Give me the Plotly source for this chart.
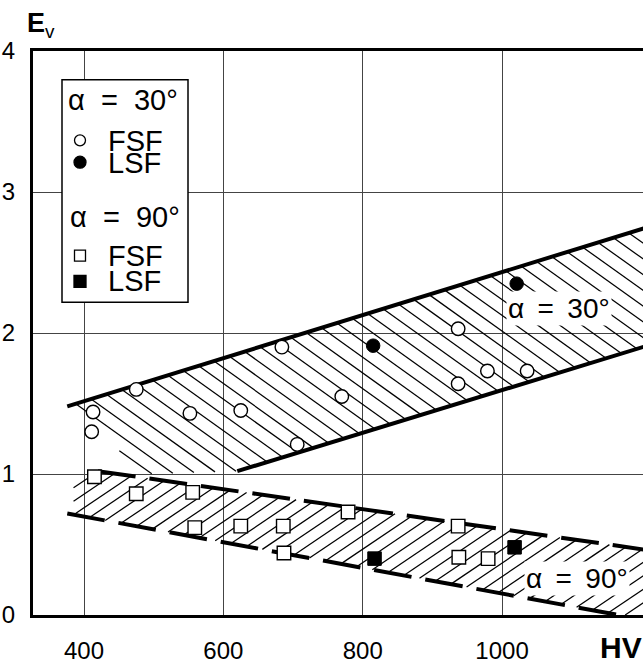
import plotly.graph_objects as go

# ---------------- data ----------------
fsf30_x = [413, 411, 475, 552, 625, 684, 706, 770, 937, 937, 979, 1036]
fsf30_y = [1.44, 1.30, 1.60, 1.43, 1.45, 1.90, 1.21, 1.55, 2.03, 1.64, 1.73, 1.73]
lsf30_x = [815, 1021]
lsf30_y = [1.91, 2.35]
fsf90_x = [415, 475, 556, 559, 625, 686, 687, 779, 937, 938, 980]
fsf90_y = [0.98, 0.86, 0.87, 0.62, 0.63, 0.63, 0.44, 0.73, 0.63, 0.41, 0.40]
lsf90_x = [817, 1018]
lsf90_y = [0.40, 0.48]

# band boundaries (alpha = 30 deg, solid)
b30_top_x = [376, 1215]
b30_top_y = [1.48, 2.76]
b30_bot_x = [620, 1215]
b30_bot_y = [1.02, 1.92]
b30_corner_x = [490]
b30_corner_y = [1.00]
# band boundaries (alpha = 90 deg, dashed)
b90_top_x = [420, 1215]
b90_top_y = [1.02, 0.456]
b90_bot_x = [376, 1167]
b90_bot_y = [0.72, 0.0]
b90_hatch_x = [385, 385, 430, 1215, 1215, 1167]
b90_hatch_y = [0.712, 0.95, 1.013, 0.456, 0.0, 0.0]

x_ticks = [400, 600, 800, 1000]
y_ticks = [0, 1, 2, 3, 4]

# ---------------- layout geometry ----------------
W, H = 643, 664
ML, MR, MT, MB = 33, 0, 51, 45
PW, PH = W - ML - MR, H - MT - MB
XR = [326.8, 1202.3]
YR = [0, 4]
FONT = "Liberation Sans, Arial, Helvetica, sans-serif"


def to_px(x, y):
    return ((x - XR[0]) / (XR[1] - XR[0]) * PW, (YR[1] - y) / (YR[1] - YR[0]) * PH)


def to_data(px, py):
    return (XR[0] + px / PW * (XR[1] - XR[0]), YR[1] - py / PH * (YR[1] - YR[0]))


def hatch(poly_x, poly_y, slope, spacing):
    """Parallel hatch lines (screen slope) clipped to a polygon, in data coords."""
    pts = [to_px(a, b) for a, b in zip(poly_x, poly_y)]
    cs = [py - slope * px for px, py in pts]
    step = abs(slope) * spacing
    c = min(cs) + step / 2
    xs, ys = [], []
    n = len(pts)
    while c < max(cs):
        hits = []
        for i in range(n):
            (x1, y1), (x2, y2) = pts[i], pts[(i + 1) % n]
            f1 = y1 - slope * x1 - c
            f2 = y2 - slope * x2 - c
            if (f1 > 0) != (f2 > 0):
                t = f1 / (f1 - f2)
                hits.append((x1 + t * (x2 - x1), y1 + t * (y2 - y1)))
        hits.sort()
        for k in range(0, len(hits) - 1, 2):
            for hx, hy in hits[k:k + 2]:
                dx, dy = to_data(hx, hy)
                xs.append(dx)
                ys.append(dy)
            xs.append(None)
            ys.append(None)
        c += step
    return xs, ys


def pxx(px):
    return (px - ML) / PW


def pxy(py):
    return (H - MB - py) / PH


fig = go.Figure()

# hatching
hx, hy = hatch(b30_top_x + b30_bot_x[::-1] + b30_corner_x,
               b30_top_y + b30_bot_y[::-1] + b30_corner_y,
               0.72, 22)
fig.add_trace(go.Scatter(x=hx, y=hy, mode="lines", line=dict(color="black", width=1.25),
                         hoverinfo="skip", showlegend=False))
hx, hy = hatch(b90_hatch_x, b90_hatch_y, -0.68, 20)
fig.add_trace(go.Scatter(x=hx, y=hy, mode="lines", line=dict(color="black", width=1.25),
                         hoverinfo="skip", showlegend=False))

# band boundaries
fig.add_trace(go.Scatter(x=b30_top_x, y=b30_top_y, mode="lines",
                         line=dict(color="black", width=4), showlegend=False))
fig.add_trace(go.Scatter(x=b30_bot_x, y=b30_bot_y, mode="lines",
                         line=dict(color="black", width=4), showlegend=False))
fig.add_trace(go.Scatter(x=b90_top_x, y=b90_top_y, mode="lines",
                         line=dict(color="black", width=4, dash="38px,14px"), showlegend=False))
fig.add_trace(go.Scatter(x=b90_bot_x, y=b90_bot_y, mode="lines",
                         line=dict(color="black", width=4, dash="38px,14px"), showlegend=False))

# data points
mk_open = dict(color="white", size=13.5, line=dict(color="black", width=1.4))
mk_fill = dict(color="black", size=13.5, line=dict(color="black", width=1))
fig.add_trace(go.Scatter(x=fsf30_x, y=fsf30_y, mode="markers", name="FSF α=30°",
                         marker=dict(symbol="circle", **mk_open), showlegend=False))
fig.add_trace(go.Scatter(x=lsf30_x, y=lsf30_y, mode="markers", name="LSF α=30°",
                         marker=dict(symbol="circle", **mk_fill), showlegend=False))
fig.add_trace(go.Scatter(x=fsf90_x, y=fsf90_y, mode="markers", name="FSF α=90°",
                         marker=dict(symbol="square", **mk_open), showlegend=False))
fig.add_trace(go.Scatter(x=lsf90_x, y=lsf90_y, mode="markers", name="LSF α=90°",
                         marker=dict(symbol="square", **mk_fill), showlegend=False))

SP_LEG = "\u00a0\u00a0"
SP_BAND = "\u00a0\u2009"
shapes = [
    dict(type="rect", xref="paper", yref="paper", x0=pxx(62), x1=pxx(188), y0=pxy(304), y1=pxy(80),
         line=dict(color="black", width=1.5), fillcolor="white", layer="above"),
]


def sym(kind, cx, cy, r, filled):
    return dict(type=kind, xref="paper", yref="paper", xsizemode="pixel", ysizemode="pixel",
                xanchor=pxx(cx), yanchor=pxy(cy), x0=-r, x1=r, y0=-r, y1=r,
                line=dict(color="black", width=1.3), fillcolor="black" if filled else "white",
                layer="above")


shapes += [sym("circle", 80, 141, 5.5, False), sym("circle", 80, 163, 6, True),
           sym("rect", 80, 257, 5.5, False), sym("rect", 80, 283, 6, True)]

ann = []


def txt(text, px, py, size, anchor="left", bold=False, bg=None):
    d = dict(text=f"<b>{text}</b>" if bold else text, xref="paper", yref="paper",
             x=pxx(px), y=pxy(py), xanchor=anchor, yanchor="middle", showarrow=False,
             font=dict(family=FONT, size=size, color="black"))
    if bg:
        d.update(bgcolor=bg, borderpad=1)
    ann.append(d)


txt(f"α{SP_LEG}={SP_LEG}30°", 66, 100, 29)
txt("FSF", 106, 142, 29)
txt("LSF", 106, 164, 29)
txt(f"α{SP_LEG}={SP_LEG}90°", 68, 218, 29)
txt("FSF", 106, 257, 29)
txt("LSF", 106, 283, 29)
txt(f"α{SP_BAND}={SP_BAND}30°", 559, 310, 28, anchor="center", bg="white")
txt(f"α{SP_BAND}={SP_BAND}90°", 577, 582, 28, anchor="center", bg="white")
txt("HV", 644, 652, 30, anchor="right", bold=True)
ann.append(dict(text="<b>E</b><sub>v</sub>", xref="paper", yref="paper", x=pxx(25), y=pxy(25),
                xanchor="left", yanchor="middle", showarrow=False,
                font=dict(family=FONT, size=27, color="black")))

fig.update_layout(
    width=W, height=H, margin=dict(l=ML, r=MR, t=MT, b=MB, pad=0),
    plot_bgcolor="white", paper_bgcolor="white",
    shapes=shapes, annotations=ann, showlegend=False,
    font=dict(family=FONT, color="black"),
    xaxis=dict(range=XR, tickvals=x_ticks, ticktext=[str(v) for v in x_ticks],
               showgrid=True, gridcolor="#444444", gridwidth=1, zeroline=False,
               showline=True, linecolor="black", linewidth=2.5, mirror=True,
               ticks="", ticklabelstandoff=12, tickfont=dict(size=24, family=FONT)),
    yaxis=dict(range=YR, tickvals=y_ticks, showgrid=True, gridcolor="#444444", gridwidth=1.2,
               zeroline=False, showline=True, linecolor="black", linewidth=3,
               ticks="", ticklabelstandoff=10, tickfont=dict(size=24, family=FONT)),
)

fig.write_html("out.html")
